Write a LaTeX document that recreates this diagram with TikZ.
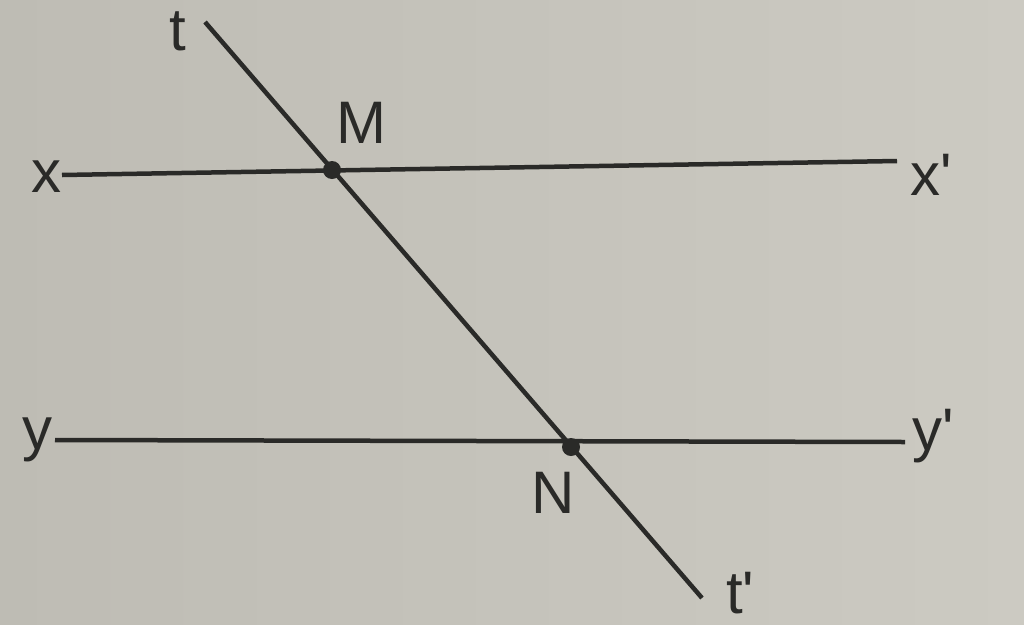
\documentclass[tikz,border=0pt]{standalone}
\usepackage{fontspec}
\setmainfont{Liberation Sans}
\newcommand{\pr}{\textquotesingle}
\begin{document}
\begin{tikzpicture}[x=1pt,y=-1pt,
  lineseg/.style={draw=ink,line width=4.5pt},
  lbl/.style={text=ink,font=\fontsize{60}{66}\selectfont,inner sep=0pt},
  pt/.style={circle,fill=ink,minimum size=18pt,inner sep=0pt}]
\definecolor{ink}{HTML}{2A2A28}
\definecolor{paperL}{HTML}{BEBCB4}
\definecolor{paperR}{HTML}{CCCAC2}
\shade[left color=paperL,right color=paperR] (0,0) rectangle (1024,624);
\useasboundingbox (0,0) rectangle (1024,624);
% endpoints
\coordinate (x1) at (62,175);
\coordinate (x2) at (897,161);
\coordinate (y1) at (55,440);
\coordinate (y2) at (905,442);
\coordinate (t1) at (205,22);
\coordinate (t2) at (702,598);
\draw[lineseg] (x1) -- (x2);
\draw[lineseg] (y1) -- (y2);
\draw[lineseg] (t1) -- (t2);
\node[pt] (M) at (332,170) {};
\node[pt] (N) at (571,447) {};
% labels
\node[lbl,anchor=base east] (lx) at (62,192) {x};
\node[lbl,anchor=base west] (lxp) at (910,195) {x\pr};
\node[lbl,anchor=base east] (ly) at (53,449) {y};
\node[lbl,anchor=base west] (lyp) at (912,450) {y\pr};
\node[lbl,anchor=base] (lt) at (178,50) {t};
\node[lbl,anchor=base west] (ltp) at (726,613) {t\pr};
\node[lbl,anchor=base] (lM) at (361,143) {M};
\node[lbl,anchor=base] (lN) at (553,513) {N};
\end{tikzpicture}
\end{document}
